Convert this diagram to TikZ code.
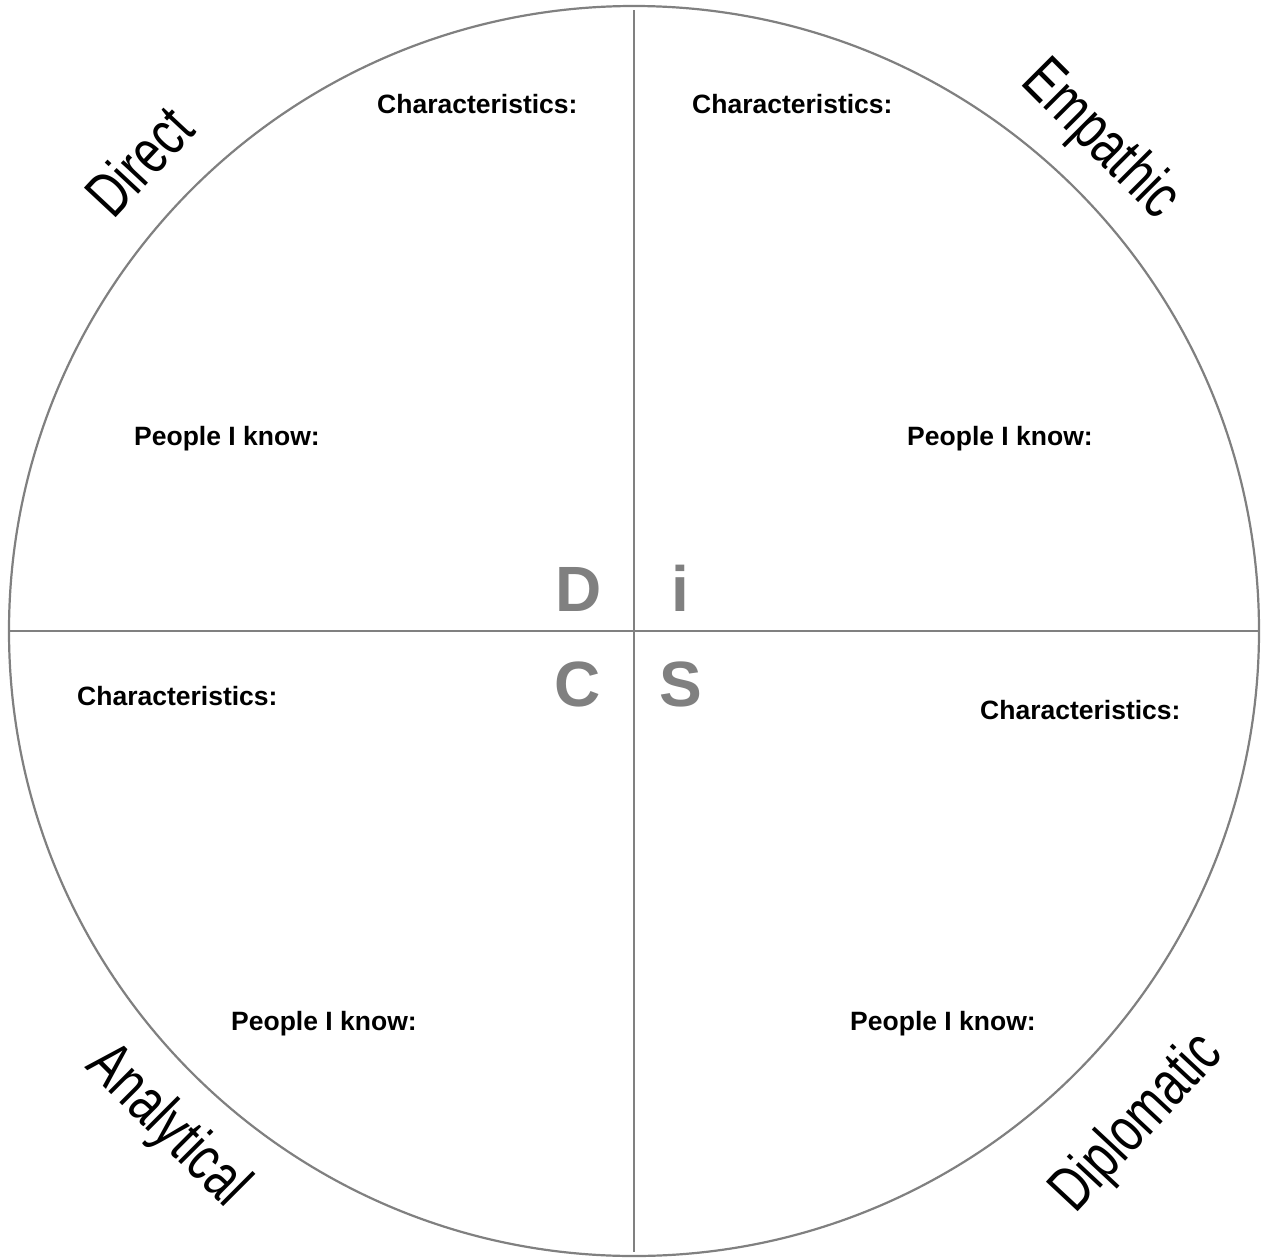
\documentclass[tikz,border=0pt]{standalone}
\usepackage{fontspec}
\setmainfont{Liberation Sans}
\newfontfamily\narrowfont[FakeStretch=0.74]{Liberation Sans}
\definecolor{linegray}{RGB}{128,128,128}
\begin{document}
\begin{tikzpicture}[x=1pt,y=-1pt,
  divline/.style={draw=linegray,line width=2.2pt},
  fieldlabel/.style={anchor=base west,inner sep=0pt,font=\fontsize{26.5}{28}\selectfont\bfseries},
  bigletter/.style={anchor=base,inner sep=0pt,text=linegray,font=\fontsize{64}{66}\selectfont\bfseries},
  typelabel/.style={anchor=center,inner sep=0pt,font=\narrowfont\fontsize{63}{66}\selectfont}]
\useasboundingbox (0,0) rectangle (1262,1258);
\fill[white] (0,0) rectangle (1262,1258);
\coordinate (ctr) at (634,631);
\draw[divline] (ctr) circle[radius=625];
\coordinate (vtop) at (634,10);
\coordinate (vbot) at (634,1252);
\coordinate (hleft) at (9,631);
\coordinate (hright) at (1259,631);
\draw[divline] (vtop) -- (vbot);
\draw[divline] (hleft) -- (hright);
% centre letters
\node[bigletter] (lD) at (579,611) {D};
\node[bigletter] (li) at (680,611) {i};
\node[bigletter] (lC) at (578,706) {C};
\node[bigletter] (lS) at (681,706) {S};
% field labels
\node[fieldlabel] (c1) at (377,113) {Characteristics:};
\node[fieldlabel] (c2) at (692,113) {Characteristics:};
\node[fieldlabel] (p1) at (134,445) {People I know:};
\node[fieldlabel] (p2) at (907,445) {People I know:};
\node[fieldlabel] (c3) at (77,705) {Characteristics:};
\node[fieldlabel] (c4) at (980,719) {Characteristics:};
\node[fieldlabel] (p3) at (231,1030) {People I know:};
\node[fieldlabel] (p4) at (850,1030) {People I know:};
% type labels
\node[typelabel,rotate=47] (tD) at (139,161) {Direct};
\node[typelabel,rotate=-45] (tE) at (1100,141) {Empathic};
\node[typelabel,rotate=-45] (tA) at (167,1127) {Analytical};
\node[typelabel,rotate=47] (tP) at (1138,1124) {Diplomatic};
\end{tikzpicture}
\end{document}
